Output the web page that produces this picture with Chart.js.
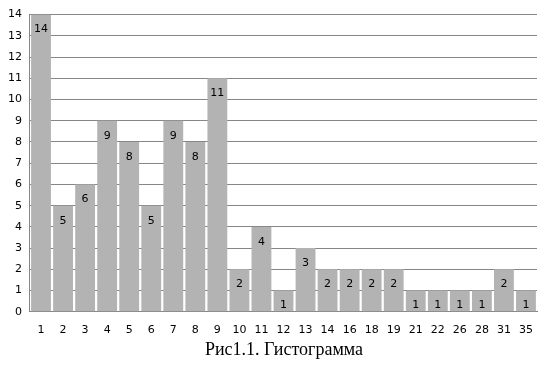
<!DOCTYPE html>
<html>
<head>
<meta charset="utf-8">
<script src="https://cdn.jsdelivr.net/npm/chart.js@4"></script>
<style>
  html, body { margin: 0; padding: 0; background: #fff; }
  #wrap { position: relative; width: 546px; height: 373px; }
  #judul {
    position: absolute; left: 31px; top: 339px; width: 506px;
    text-align: center; font-family: "Liberation Serif"; font-size: 18px; color: #000;
  }
</style>
</head>
<body>
<div id="wrap">
  <canvas id="grafik"></canvas>
  <div id="judul"></div>
</div>
<script>
const kategori = ['1','2','3','4','5','6','7','8','9','10','11','12','13','14','16','18','19','21','22','26','28','31','35'];
const frekuensi = [14, 5, 6, 9, 8, 5, 9, 8, 11, 2, 4, 1, 3, 2, 2, 2, 2, 1, 1, 1, 1, 2, 1];
const judul = 'Рис1.1. Гистограмма';

document.getElementById('judul').textContent = judul;

// label angka di dalam batang, dekat bagian atas
const labelBatang = {
  id: 'labelBatang',
  afterDatasetsDraw(chart) {
    const ctx = chart.ctx;
    const meta = chart.getDatasetMeta(0);
    ctx.save();
    ctx.font = '11px "DejaVu Sans"';
    ctx.fillStyle = '#000';
    ctx.textAlign = 'center';
    ctx.textBaseline = 'middle';
    meta.data.forEach((bar, i) => {
      ctx.fillText(frekuensi[i], bar.x, bar.y + 15);
    });
    ctx.restore();
  }
};

new Chart(document.getElementById('grafik'), {
  type: 'bar',
  data: {
    labels: kategori,
    datasets: [{
      data: frekuensi,
      backgroundColor: '#b3b3b3',
      borderWidth: 0,
      barPercentage: 0.9,
      categoryPercentage: 1
    }]
  },
  options: {
    responsive: true,
    maintainAspectRatio: false,
    animation: false,
    layout: { padding: { left: 0, right: 9, top: 7, bottom: 24 } },
    plugins: {
      legend: { display: false },
      tooltip: { enabled: false }
    },
    scales: {
      x: {
        grid: { display: false, drawTicks: false },
        border: { color: '#868686' },
        ticks: { color: '#000', font: { family: '"DejaVu Sans"', size: 11 }, padding: 12, maxRotation: 0, autoSkip: false }
      },
      y: {
        min: 0,
        max: 14,
        ticks: { stepSize: 1, color: '#000', font: { family: '"DejaVu Sans"', size: 11 }, padding: 8 },
        grid: { color: '#868686', drawTicks: false },
        border: { color: '#868686' }
      }
    }
  },
  plugins: [labelBatang]
});
</script>
</body>
</html>
